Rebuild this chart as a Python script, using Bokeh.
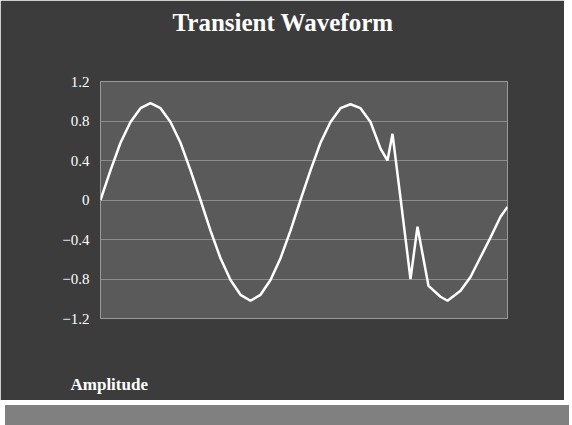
from bokeh.plotting import figure
from bokeh.models import Title, Div, FixedTicker
from bokeh.layouts import column
from bokeh.embed import file_html
from bokeh.resources import INLINE

# time in ms
t_ms = [0, 1, 2, 3, 4, 5, 6, 7, 8, 9, 10, 11, 12, 13, 14, 15, 16, 17, 18, 19,
        20, 21, 22, 23, 24, 25, 26, 27, 28, 28.7, 29.2, 30.0, 31.0, 31.7, 32.8,
        34.0, 34.7, 36.0, 37.0, 38.0, 39.0, 40.0, 40.7]
amp = [0.0, 0.30, 0.58, 0.79, 0.93, 0.98, 0.93, 0.79, 0.58, 0.30, 0.0, -0.31,
       -0.59, -0.81, -0.96, -1.02, -0.96, -0.81, -0.59, -0.31, 0.0, 0.30, 0.58,
       0.79, 0.93, 0.97, 0.93, 0.79, 0.52, 0.40, 0.67, 0.02, -0.80, -0.27, -0.87,
       -0.98, -1.02, -0.92, -0.78, -0.58, -0.38, -0.17, -0.07]
y_ticks = [-1.2, -0.8, -0.4, 0, 0.4, 0.8, 1.2]

p = figure(width=564, height=400, output_backend="svg", toolbar_location=None,
           x_range=(0, 40.7), y_range=(-1.2, 1.2),
           min_border_left=100, min_border_right=57, min_border_top=0, min_border_bottom=0)
p.title_location = None

p.border_fill_color = "#3c3c3c"
p.background_fill_color = "#5a5a5a"
p.outline_line_color = "#9a9a9a"

p.line(t_ms, amp, line_color="white", line_width=2.5)

p.yaxis.ticker = FixedTicker(ticks=y_ticks)
p.yaxis.major_label_text_color = "white"
p.yaxis.major_label_text_font_size = "15px"
p.yaxis.major_label_text_font = "Liberation Serif"
p.yaxis.axis_line_color = None
p.yaxis.major_tick_line_color = None
p.yaxis.minor_tick_line_color = None

p.xaxis.visible = False
p.xgrid.grid_line_color = None
p.ygrid.grid_line_color = "#8c8c8c"
p.ygrid.grid_line_width = 1

# spacer next to the frame, then the title
p.add_layout(Title(text=" ", text_font_size="1px", standoff=33, text_color="#3c3c3c"), "above")
main_title = Title(text="Transient Waveform", align="left", offset=72, vertical_align="top",
                   standoff=16, text_color="white", text_font="Liberation Serif",
                   text_font_size="25px", text_font_style="bold")
p.add_layout(main_title, "above")

p.add_layout(Title(text=" ", text_font_size="1px", standoff=48, text_color="#3c3c3c"), "below")
lab = Title(text="Amplitude", align="left", vertical_align="top", text_color="white",
            text_font="Liberation Serif", text_font_size="17px", text_font_style="bold",
            offset=-30, standoff=10)
p.add_layout(lab, "below")

band = Div(width=564, height=25, styles={"background-color": "#808080"})

layout = column(p, band, spacing=0)
open("out.html", "w").write(file_html(layout, INLINE))
